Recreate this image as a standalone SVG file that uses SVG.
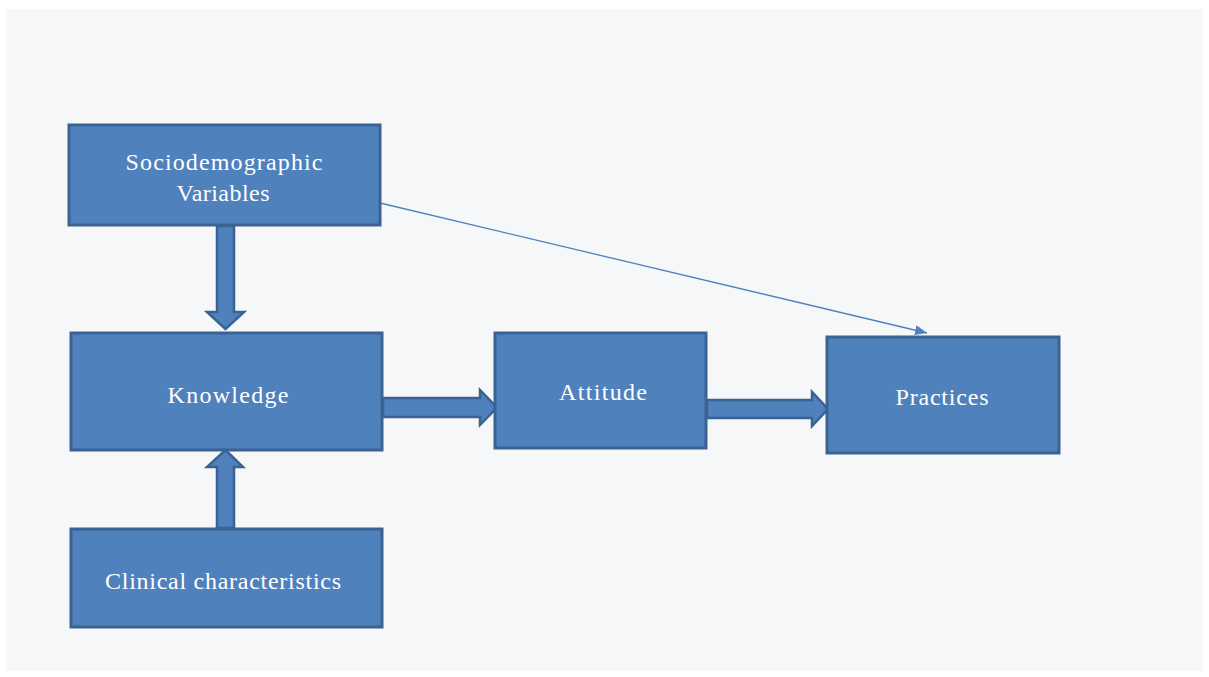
<svg xmlns="http://www.w3.org/2000/svg" width="1209" height="677" viewBox="0 0 1209 677">
<style>
.box{fill:#4F81BD;stroke:#3A6292;stroke-width:3}
.blk{fill:#4F81BD;stroke:#3A6292;stroke-width:2.5;stroke-linejoin:miter}
.lbl{font-family:"Liberation Serif",serif;font-size:24px;fill:#FFFFFF;text-anchor:middle}
</style>
<defs>
<marker id="ah" viewBox="0 0 12 10" refX="12" refY="5" markerWidth="12" markerHeight="10" markerUnits="userSpaceOnUse" orient="auto">
<path d="M0,0 L12,5 L0,10 Z" fill="#4F81BD"/>
</marker>
</defs>
<rect x="0" y="0" width="1209" height="677" fill="#FFFFFF"/>
<rect x="6" y="9" width="1197" height="662" fill="#F6F7F9"/>
<g id="connectors">
<path class="blk" d="M217,226 L234,226 L234,312 L244,312 L225.5,329 L207,312 L217,312 Z"/>
<path class="blk" d="M217,528 L234,528 L234,467 L243,467 L225.5,450 L207,467 L217,467 Z"/>
<path class="blk" d="M383,398 L480,398 L480,390 L497,407.5 L480,425 L480,417 L383,417 Z"/>
<path class="blk" d="M707,400 L812,400 L812,392 L828,409 L812,426 L812,418 L707,418 Z"/>
<line x1="380" y1="203" x2="927" y2="333" stroke="#4F81BD" stroke-width="1.3" marker-end="url(#ah)"/>
</g>
<g id="sociodemographic">
<rect class="box" x="69" y="125" width="311" height="100"/>
<text class="lbl" x="224" y="170" textLength="197" lengthAdjust="spacing">Sociodemographic</text>
<text class="lbl" x="223" y="201" textLength="93" lengthAdjust="spacing">Variables</text>
</g>
<g id="knowledge">
<rect class="box" x="71" y="333" width="311" height="117"/>
<text class="lbl" x="228" y="403" textLength="121" lengthAdjust="spacing">Knowledge</text>
</g>
<g id="clinical">
<rect class="box" x="71" y="529" width="311" height="98"/>
<text class="lbl" x="223" y="589" textLength="236" lengthAdjust="spacing">Clinical characteristics</text>
</g>
<g id="attitude">
<rect class="box" x="495" y="333" width="211" height="115"/>
<text class="lbl" x="603" y="400" textLength="88" lengthAdjust="spacing">Attitude</text>
</g>
<g id="practices">
<rect class="box" x="827" y="337" width="232" height="116"/>
<text class="lbl" x="942" y="405" textLength="93" lengthAdjust="spacing">Practices</text>
</g>
</svg>
